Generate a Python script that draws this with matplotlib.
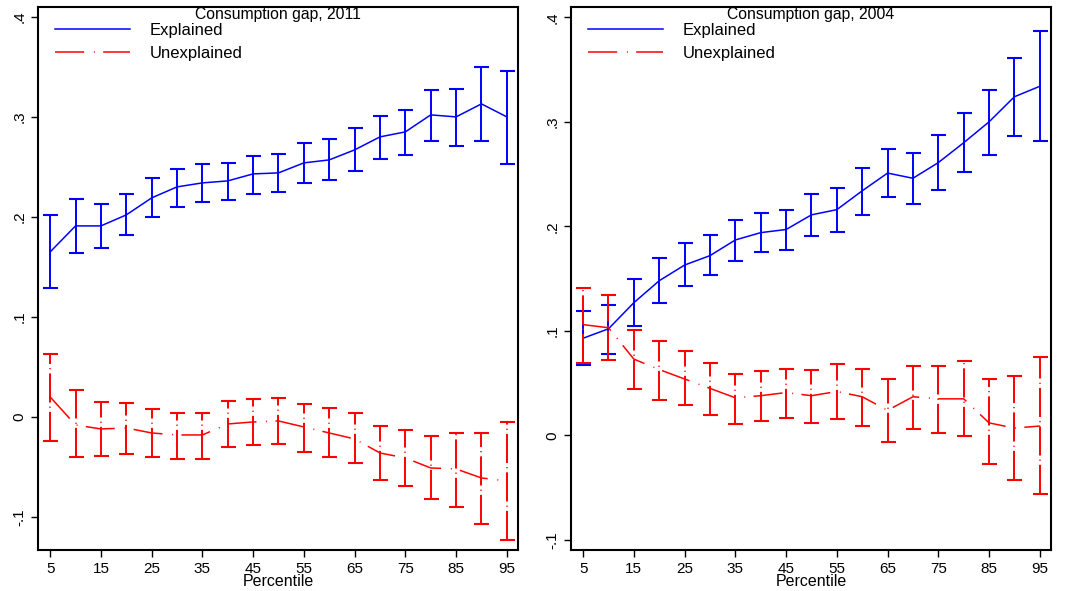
import numpy as np
import matplotlib.pyplot as plt

plt.rcParams['font.family'] = ['Liberation Sans', 'DejaVu Sans']
plt.rcParams['lines.scale_dashes'] = False

pct = [5, 10, 15, 20, 25, 30, 35, 40, 45, 50, 55, 60, 65, 70, 75, 80, 85, 90, 95]

# 2011
exp11 = [0.165, 0.191, 0.191, 0.202, 0.219, 0.230, 0.234, 0.236, 0.243, 0.244,
         0.254, 0.257, 0.267, 0.280, 0.285, 0.302, 0.300, 0.313, 0.300]
exp11_hi = [0.202, 0.218, 0.213, 0.223, 0.239, 0.248, 0.253, 0.254, 0.261, 0.263,
            0.274, 0.278, 0.289, 0.301, 0.307, 0.327, 0.328, 0.350, 0.346]
exp11_lo = [0.129, 0.164, 0.169, 0.182, 0.200, 0.210, 0.215, 0.217, 0.223, 0.225,
            0.234, 0.237, 0.246, 0.258, 0.262, 0.276, 0.271, 0.276, 0.253]
une11 = [0.020, -0.008, -0.012, -0.011, -0.016, -0.018, -0.018, -0.007, -0.005, -0.004,
         -0.010, -0.016, -0.022, -0.036, -0.041, -0.051, -0.052, -0.061, -0.064]
une11_hi = [0.063, 0.027, 0.015, 0.014, 0.008, 0.004, 0.004, 0.016, 0.018, 0.019,
            0.013, 0.009, 0.004, -0.009, -0.013, -0.019, -0.016, -0.016, -0.005]
une11_lo = [-0.024, -0.040, -0.039, -0.037, -0.040, -0.042, -0.042, -0.030, -0.028, -0.027,
            -0.035, -0.040, -0.046, -0.063, -0.069, -0.082, -0.090, -0.107, -0.123]

# 2004
exp04 = [0.093, 0.102, 0.127, 0.148, 0.163, 0.172, 0.187, 0.194, 0.197, 0.211,
         0.216, 0.234, 0.251, 0.246, 0.261, 0.280, 0.300, 0.324, 0.334]
exp04_hi = [0.119, 0.125, 0.150, 0.170, 0.184, 0.192, 0.206, 0.213, 0.216, 0.231,
            0.237, 0.256, 0.274, 0.270, 0.287, 0.308, 0.330, 0.361, 0.387]
exp04_lo = [0.067, 0.078, 0.105, 0.127, 0.143, 0.153, 0.167, 0.175, 0.177, 0.191,
            0.195, 0.211, 0.228, 0.221, 0.235, 0.252, 0.268, 0.286, 0.282]
une04 = [0.106, 0.103, 0.073, 0.063, 0.054, 0.045, 0.036, 0.038, 0.041, 0.038,
         0.042, 0.037, 0.024, 0.037, 0.035, 0.035, 0.012, 0.007, 0.009]
une04_hi = [0.141, 0.134, 0.101, 0.090, 0.081, 0.069, 0.059, 0.062, 0.064, 0.063,
            0.068, 0.064, 0.054, 0.066, 0.066, 0.071, 0.054, 0.057, 0.075]
une04_lo = [0.069, 0.072, 0.044, 0.034, 0.029, 0.020, 0.011, 0.014, 0.017, 0.012,
            0.016, 0.009, -0.006, 0.006, 0.002, -0.001, -0.027, -0.043, -0.056]

yticks = [-0.1, 0, 0.1, 0.2, 0.3, 0.4]
ytick_labels = ['-.1', '0', '.1', '.2', '.3', '.4']
xticks = [5, 15, 25, 35, 45, 55, 65, 75, 85, 95]

dashdot = (0, (21, 7, 0.7, 6))       # line pattern
dashdot_bar = (0, (21, 3, 0.7, 3))   # tighter gaps on the vertical bars


def draw_panel(ax, title, exp, exp_lo, exp_hi, une, une_lo, une_hi, ylim):
    x = np.array(pct)
    e = np.array(exp)
    u = np.array(une)
    ax.errorbar(x, e, yerr=[e - np.array(exp_lo), np.array(exp_hi) - e],
                fmt='none', ecolor='blue', elinewidth=1.4, capsize=5.4,
                capthick=1.5)
    l1, = ax.plot(x, e, color='blue', lw=1.1, label='Explained')
    eb2 = ax.errorbar(x, u, yerr=[u - np.array(une_lo), np.array(une_hi) - u],
                      fmt='none', ecolor='red', elinewidth=1.4, capsize=5.4,
                      capthick=1.5)
    for lc in eb2[2]:
        lc.set_linestyle(dashdot_bar)
    l2, = ax.plot(x, u, color='red', lw=1.1, linestyle=dashdot, label='Unexplained')

    ax.set_xlim(2.6, 97.2)
    ax.set_ylim(*ylim)
    ax.set_xticks(xticks)
    ax.set_yticks(yticks)
    ax.set_yticklabels(ytick_labels, rotation=90, va='center')
    ax.tick_params(labelsize=11, length=5, width=1)
    ax.set_xlabel('Percentile', fontsize=11.5, labelpad=-1)
    for s in ax.spines.values():
        s.set_linewidth(1.5)
    ax.text(0.5, 0.999, title, transform=ax.transAxes, ha='center', va='top',
            fontsize=11.3)
    ax.legend(handles=[l1, l2], loc='upper left', bbox_to_anchor=(0.035, 0.971),
              frameon=False, fontsize=12, handlelength=4.5, handletextpad=1.2,
              labelspacing=0.5, borderpad=0, borderaxespad=0)


fig = plt.figure(figsize=(10.7, 5.91), dpi=100)
ax1 = fig.add_axes([0.0355, 0.0694, 0.4486, 0.919])
ax2 = fig.add_axes([0.5336, 0.0694, 0.4486, 0.919])

draw_panel(ax1, 'Consumption gap, 2011', exp11, exp11_lo, exp11_hi,
           une11, une11_lo, une11_hi, (-0.133, 0.41))
draw_panel(ax2, 'Consumption gap, 2004', exp04, exp04_lo, exp04_hi,
           une04, une04_lo, une04_hi, (-0.1096, 0.41))

fig.savefig('out.png', dpi=100)
